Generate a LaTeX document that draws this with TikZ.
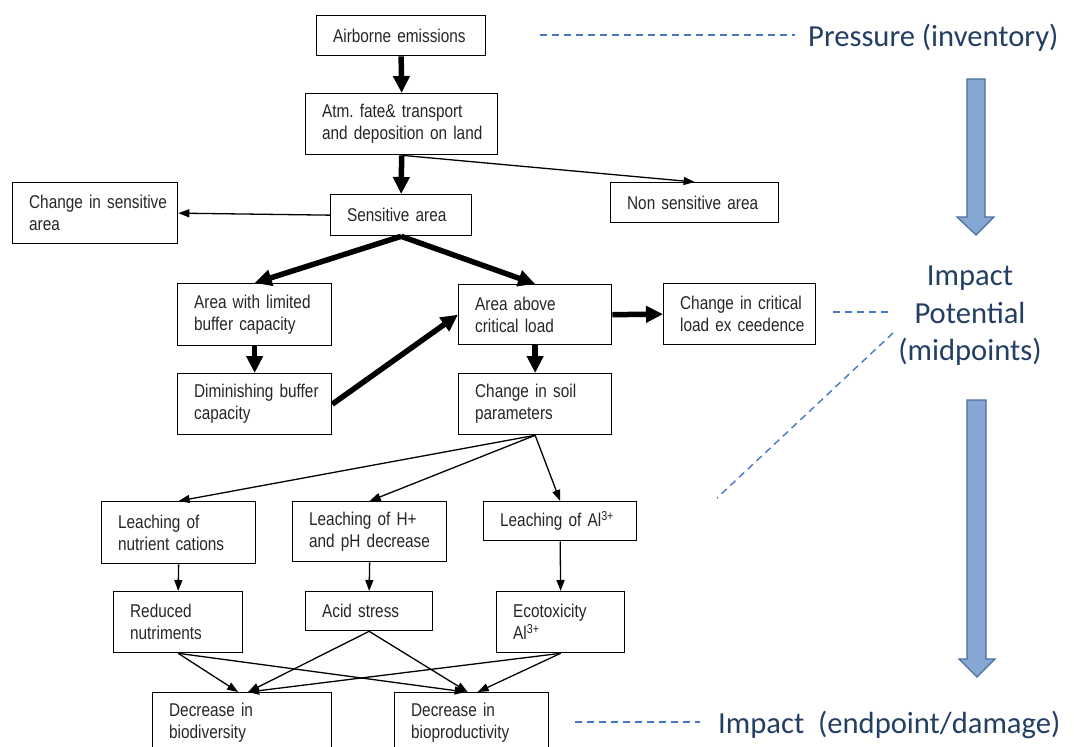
\documentclass[tikz,border=0pt]{standalone}
\usepackage{fontspec}
\setmainfont{Liberation Sans}
\newfontfamily\boxfont{Liberation Sans}[FakeStretch=0.83]
\newfontfamily\labelfont{Carlito}
\usetikzlibrary{arrows.meta,calc}
\definecolor{boxtext}{RGB}{40,36,40}
\definecolor{levelblue}{RGB}{36,62,100}
\definecolor{dashblue}{RGB}{70,118,196}
\definecolor{arrowfill}{RGB}{133,167,210}
\definecolor{arrowedge}{RGB}{76,110,160}
\frenchspacing
% narrow box lettering with tighter word spaces
\protected\def\boxtextfont{\boxfont\fontsize{18.5}{22}\selectfont
  \spaceskip=3.4pt plus 1pt minus 0.5pt\relax}

\begin{document}
\begin{tikzpicture}[x=1pt,y=-1pt,
  box/.style={draw, line width=1.3pt, anchor=north west, inner xsep=16.5pt,
    inner ysep=0pt, align=left, text=boxtext, font=\boxtextfont},
  heavy/.style={line width=5.5pt, -{Triangle[length=17pt,width=16pt]}},
  light/.style={line width=1.3pt, -{Triangle[length=11pt,width=8pt]}},
  level/.style={text=levelblue, font=\labelfont\fontsize{30.6}{37.5}\selectfont, inner sep=0pt},
  guide/.style={dashblue, line width=1.4pt, dash pattern=on 7pt off 5pt},
  bigarrow/.style={fill=arrowfill, draw=arrowedge, line width=1.2pt, line join=miter}
]
\useasboundingbox (0,0) rectangle (1074,747);
\clip (0,0) rectangle (1074,747);

% ---- cause-effect chain ----
\node[box, text width=136pt, minimum height=40pt] (emis) at (316,15) {Airborne emissions};
\node[box, text width=159pt, minimum height=61pt] (atm) at (305,93)
  {\mbox{Atm. fate\& transport}\\\mbox{and deposition on land}};
\node[box, text width=108pt, minimum height=41pt] (sens) at (330,194) {Sensitive area};
\node[box, text width=132pt, minimum height=61pt] (chsens) at (12,182)
  {\mbox{Change in sensitive}\\area};
\node[box, text width=135pt, minimum height=40pt] (nonsens) at (610,182) {\mbox{Non sensitive area}};

\node[box, text width=121pt, minimum height=62pt] (limited) at (177,283)
  {\mbox{Area with limited}\\\mbox{buffer capacity}};
\node[box, text width=120pt, minimum height=60pt] (above) at (458,284)
  {Area above\\critical load};
\node[box, text width=119pt, minimum height=61pt] (crit) at (663,283)
  {\mbox{Change in critical}\\\mbox{load ex ceedence}};
\node[box, text width=121pt, minimum height=61pt] (dim) at (177,373)
  {\mbox{Diminishing buffer}\\capacity};
\node[box, text width=120pt, minimum height=61pt] (soil) at (458,373)
  {\mbox{Change in soil}\\parameters};

\node[box, text width=121pt, minimum height=62pt] (nut) at (101,501)
  {Leaching of\\\mbox{nutrient cations}};
\node[box, text width=121pt, minimum height=60pt] (hplus) at (292,501)
  {\mbox{Leaching of H+}\\\mbox{and pH decrease}};
\node[box, text width=120pt, minimum height=39pt] (al) at (483,501)
  {\mbox{Leaching of Al\textsuperscript{3+}}};

\node[box, text width=96pt, minimum height=61pt] (red) at (113,591)
  {Reduced\\nutriments};
\node[box, text width=94pt, minimum height=39pt] (acid) at (305,591) {Acid stress};
\node[box, text width=95pt, minimum height=61pt] (eco) at (496,591)
  {Ecotoxicity\\Al\textsuperscript{3+}};

\node[box, text width=146pt, minimum height=61pt] (bio) at (152,692)
  {Decrease in\\biodiversity};
\node[box, text width=121pt, minimum height=61pt] (biop) at (394,692)
  {Decrease in\\\mbox{bioproductivity}};

% ---- connectors ----
\draw[heavy] (emis.south) -- (atm.north);
\draw[heavy] (atm.south) -- (sens.north);
\draw[light] (atm.south) -- (nonsens.north);
\draw[light] (sens.west) -- (chsens.east);
\draw[heavy] (sens.south) -- (limited.north);
\draw[heavy] (sens.south) -- (above.north);
\draw[heavy] (limited.south) -- (dim.north);
\draw[heavy] (dim.east) -- (above.west);
\draw[heavy] (above.east) -- (crit.west);
\draw[heavy] (above.south) -- (soil.north);

\draw[light] (soil.south) -- (nut.north);
\draw[light] (soil.south) -- (hplus.north);
\draw[light] (soil.south) -- (al.north);
\draw[light] (nut.south) -- (red.north);
\draw[light] (hplus.south) -- (acid.north);
\draw[light] (al.south) -- (eco.north);

\draw[light] (red.south) -- ($(bio.north)+(-4,0)$);
\draw[light] (red.south) -- ($(biop.north)+(-6,0)$);
\draw[light] (acid.south) -- ($(bio.north)+(6,0)$);
\draw[light] (acid.south) -- ($(biop.north)+(-4,0)$);
\draw[light] (eco.south) -- ($(bio.north)+(6,0)$);
\draw[light] (eco.south) -- ($(biop.north)+(6,0)$);

% ---- assessment levels ----
\node[level, anchor=base west] (press) at (808,46) {Pressure (inventory)};
\node[level, anchor=north, align=center] (midp) at (970,266) {Impact\\Potential\\(midpoints)};
\node[level, anchor=base west] (endp) at (718,733) {Impact\ \ (endpoint/damage)};

\coordinate (pA) at (540,35);  \coordinate (pB) at (795,35);
\coordinate (mA) at (833,312); \coordinate (mB) at (893,312);
\coordinate (mC) at (893,333); \coordinate (mD) at (717,498);
\coordinate (eA) at (575,722); \coordinate (eB) at (700,722);
\draw[guide] (pA) -- (pB);
\draw[guide] (mA) -- (mB);
\draw[guide] (mC) -- (mD);
\draw[guide] (eA) -- (eB);

\draw[bigarrow] (967,79) -- (985,79) -- (985,217) -- (994,217) -- (976,235)
  -- (957,217) -- (967,217) -- cycle;
\draw[bigarrow] (967,400) -- (986,400) -- (986,659) -- (995,659) -- (977,677)
  -- (959,659) -- (967,659) -- cycle;
\end{tikzpicture}
\end{document}
